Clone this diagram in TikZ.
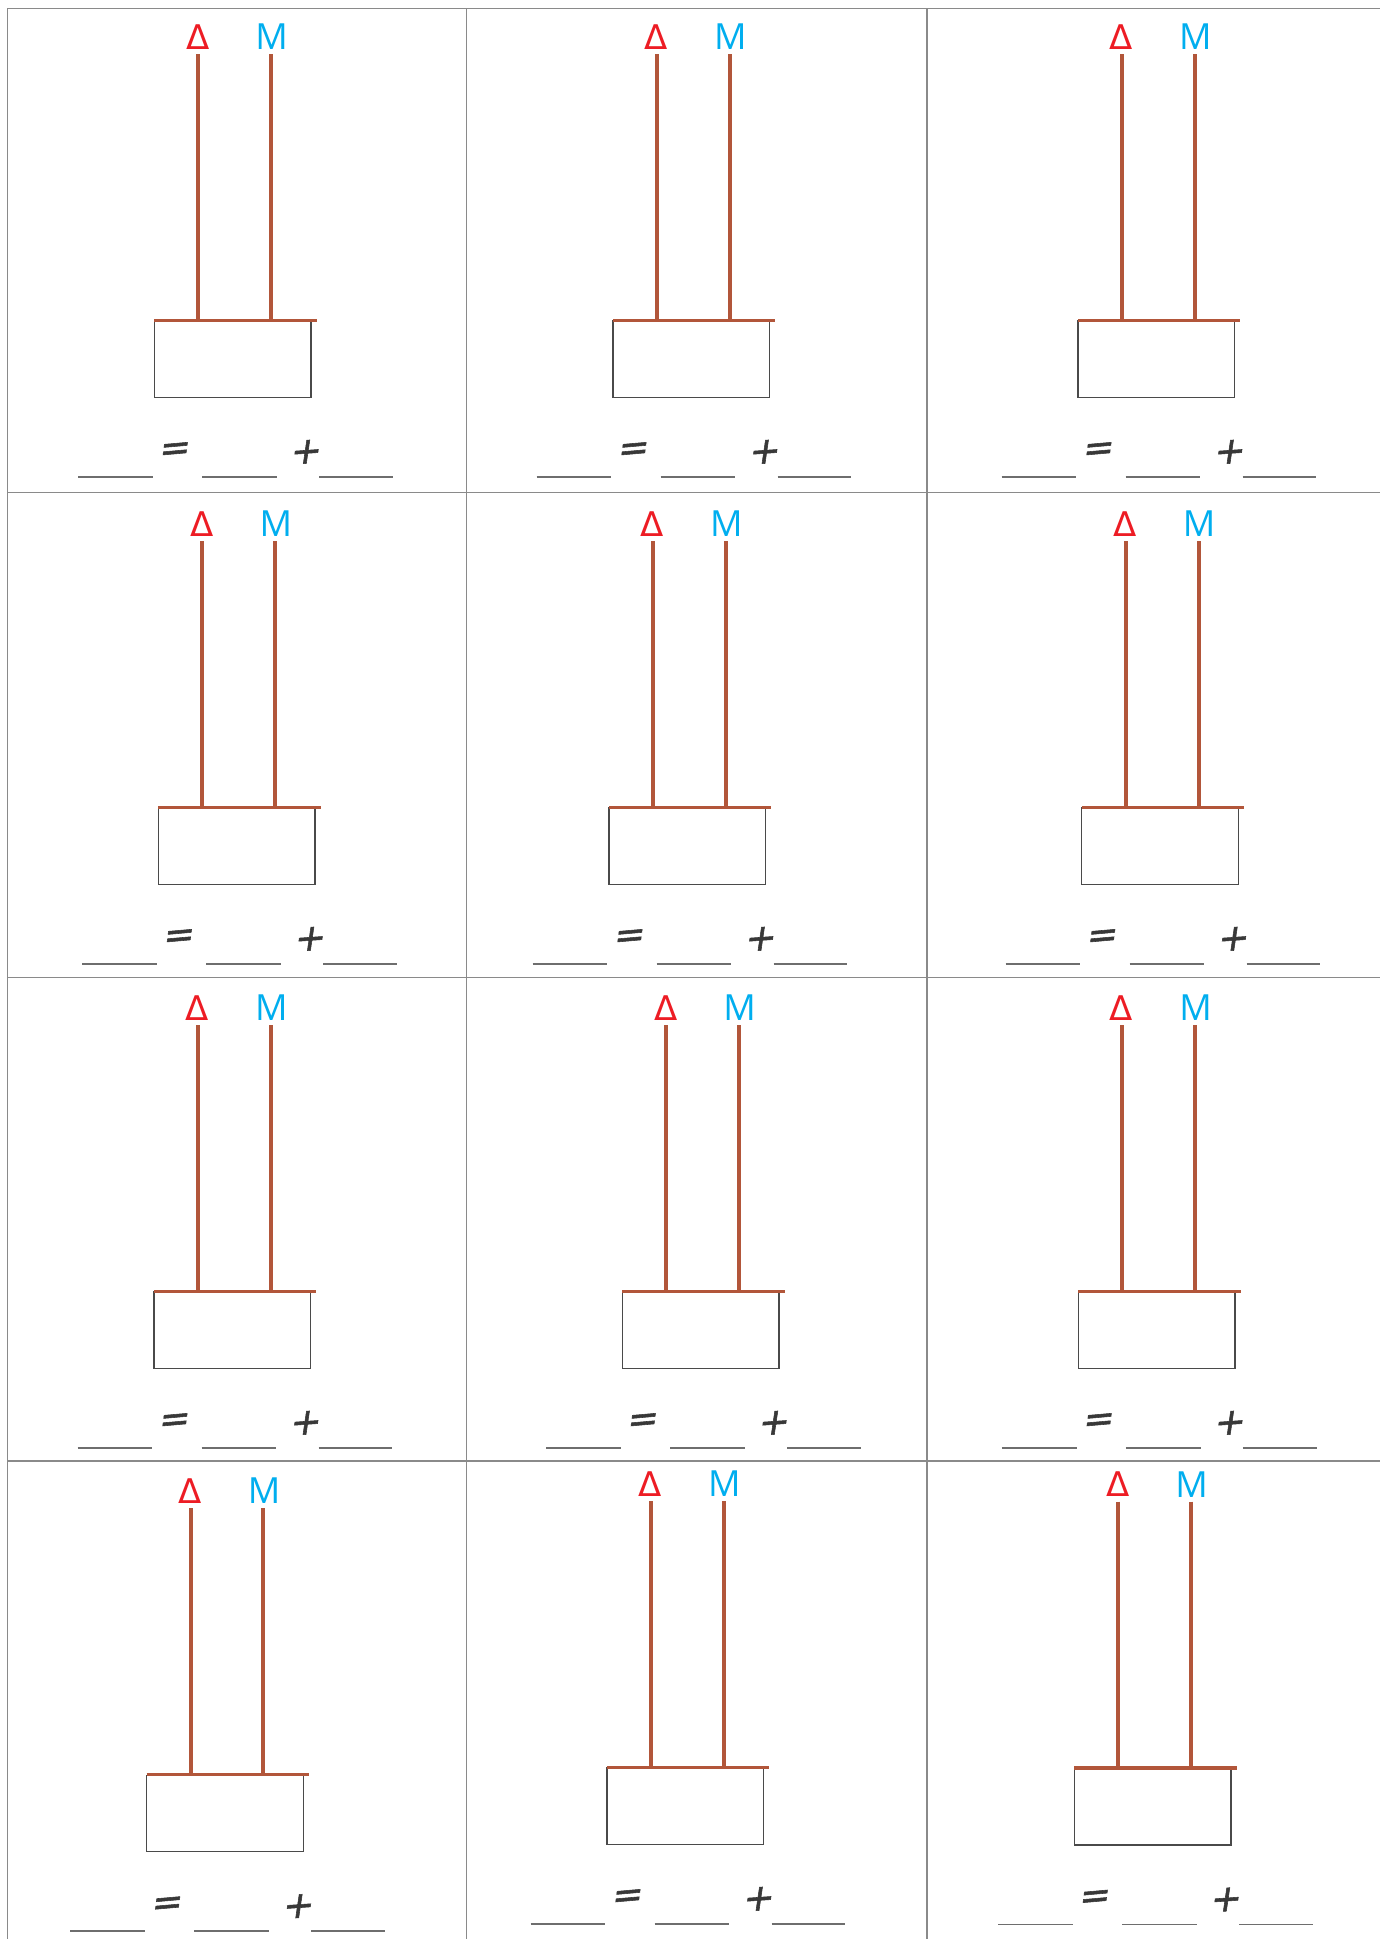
\documentclass[tikz,border=0pt]{standalone}
\usepackage{graphicx}
\usepackage{fontspec}
\setmainfont{Open Sans}
\newfontfamily\eqfont[FakeSlant=0.22,FakeBold=1.5]{DejaVu Sans}
\newfontfamily\deltafont{DejaVu Sans}
\definecolor{deltared}{HTML}{ED1C24}
\definecolor{mcyan}{HTML}{00AEEF}
\definecolor{rodbrown}{HTML}{B2563A}
\definecolor{gridgray}{HTML}{8A8A8A}
\definecolor{boxgray}{HTML}{4A4A4A}
\definecolor{blankgray}{HTML}{6E6E6E}
\definecolor{eqgray}{HTML}{383838}
\tikzset{
  gridline/.style={draw=gridgray, line width=1.5pt},
  rod/.style={draw=rodbrown, line width=4pt},
  rodbar/.style={draw=rodbrown, line width=3.5pt},
  boxstyle/.style={draw=boxgray, line width=1.3pt, fill=white, inner sep=0pt, outer sep=0pt},
  lbl/.style={inner sep=0pt, font=\fontsize{36}{42}\selectfont},
  dlbl/.style={inner sep=0pt, font=\deltafont\fontsize{34}{42}\selectfont},
  eqsym/.style={inner sep=0pt, text=eqgray, font=\eqfont\fontsize{37}{42}\selectfont},
  blankline/.style={draw=blankgray, line width=1.6pt}
}
\newcommand\drawcellunit[3]{%
  \node[boxstyle, anchor=north west, minimum width=156.7pt, minimum height=76.3pt] (#1box) at ({#2-44},{#3+267}) {};
  \coordinate (#1bl) at ({#2-44},{#3+266.3});
  \coordinate (#1br) at ({#2+118.4},{#3+266.3});
  \draw[rodbar] (#1bl) -- (#1br);
  \node[dlbl, text=deltared] (#1d) at ({#2-0.6},{#3-17.3}) {Δ};
  \node[lbl, text=mcyan] (#1m) at ({#2+73.4},{#3-17.3}) {M};
  \coordinate (#1dt) at (#2,#3);
  \coordinate (#1mt) at ({#2+72.7},#3);
  \draw[rod] (#1dt) -- (#1dt |- #1bl);
  \draw[rod] (#1mt) -- (#1mt |- #1bl);
  \node[eqsym] (#1eq) at ({#2-25.3},{#3+398}) {\rotatebox{5}{=}};
  \node[eqsym] (#1pl) at ({#2+105.7},{#3+398}) {\rotatebox{4}{+}};
  \coordinate (#1ua) at ({#2-120.3},{#3+422.7});
  \coordinate (#1ub) at ({#2-45.6},{#3+422.7});
  \coordinate (#1uc) at ({#2+3.7},{#3+422.7});
  \coordinate (#1ud) at ({#2+78.4},{#3+422.7});
  \coordinate (#1ue) at ({#2+120.7},{#3+422.7});
  \coordinate (#1uf) at ({#2+194.4},{#3+422.7});
  \draw[blankline] (#1ua) -- (#1ub);
  \draw[blankline] (#1uc) -- (#1ud);
  \draw[blankline] (#1ue) -- (#1uf);
}
\begin{document}
\begin{tikzpicture}[x=1pt,y=-1pt]
\useasboundingbox[fill=white] (0,0) rectangle (1380,1939);
% grid
\coordinate (v1t) at (7.3,8.7);   \coordinate (v1b) at (7.3,1939);
\coordinate (v2t) at (466.7,8.7); \coordinate (v2b) at (466.7,1939);
\coordinate (v3t) at (927,8.7);   \coordinate (v3b) at (927,1939);
\draw[gridline] (v1t) -- (v1b);
\draw[gridline] (v2t) -- (v2b);
\draw[gridline] (v3t) -- (v3b);
\foreach \yy/\nm in {8.7/h1, 492.7/h2, 977.3/h3, 1461/h4}{
  \coordinate (\nm l) at (7.3,\yy);
  \coordinate (\nm r) at (1380,\yy);
  \draw[gridline] (\nm l) -- (\nm r);
}
% cells
\drawcellunit{ca}{198.3}{54}
\drawcellunit{cb}{657}{54}
\drawcellunit{cc}{1122}{54}
\drawcellunit{cd}{202.4}{541}
\drawcellunit{ce}{653}{541}
\drawcellunit{cf}{1125.8}{541}
\drawcellunit{cg}{198}{1025}
\drawcellunit{ch}{666.3}{1025}
\drawcellunit{ci}{1122.2}{1025}
\drawcellunit{cj}{190.7}{1508.3}
\drawcellunit{ck}{651}{1501}
\drawcellunit{cl}{1118.3}{1501.7}
\end{tikzpicture}
\end{document}
